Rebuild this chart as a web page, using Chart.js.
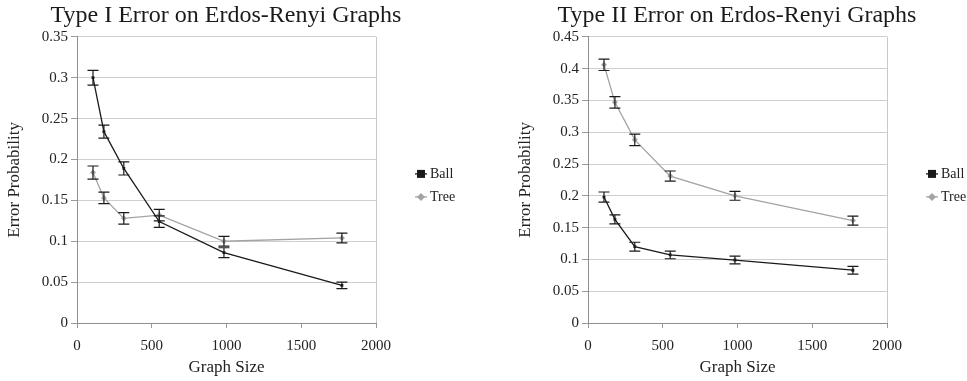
<!DOCTYPE html>
<html>
<head>
<meta charset="utf-8">
<script src="https://cdn.jsdelivr.net/npm/chart.js@4.4.1/dist/chart.umd.min.js"></script>
<style>
  html, body { margin: 0; padding: 0; background: #fff; overflow: hidden; }
  .box { position: absolute; top: 0; width: 480px; height: 381px; }
  #left { left: 0; }
  #right { left: 511px; }
</style>
</head>
<body>
<div class="box" id="left"><canvas id="type1" width="480" height="381"></canvas></div>
<div class="box" id="right"><canvas id="type2" width="480" height="381"></canvas></div>
<script>
// graph sizes used in both experiments
const graphSizes = [107, 180, 313, 550, 983, 1772];
const seriesNames = ['Ball', 'Tree'];

// Type I error
const type1Ball = [0.300, 0.234, 0.189, 0.124, 0.086, 0.046];
const type1BallErr = [0.009, 0.008, 0.008, 0.007, 0.006, 0.004];
const type1Tree = [0.184, 0.153, 0.128, 0.132, 0.100, 0.104];
const type1TreeErr = [0.008, 0.007, 0.007, 0.007, 0.006, 0.006];

// Type II error
const type2Ball = [0.198, 0.163, 0.120, 0.107, 0.099, 0.083];
const type2BallErr = [0.008, 0.007, 0.007, 0.006, 0.006, 0.006];
const type2Tree = [0.406, 0.347, 0.288, 0.231, 0.200, 0.161];
const type2TreeErr = [0.009, 0.009, 0.009, 0.008, 0.007, 0.007];

const ballColor = '#1a1a1a';
const treeColor = '#a3a3a3';
const serif = '"Liberation Serif", serif';

// vertical error bars with caps, drawn through the y scale
const errorBars = {
  id: 'errorBars',
  afterDatasetsDraw(chart) {
    const ctx = chart.ctx;
    const yScale = chart.scales.y;
    ctx.save();
    ctx.strokeStyle = '#1a1a1a';
    ctx.lineWidth = 1.2;
    chart.data.datasets.forEach((ds, i) => {
      const meta = chart.getDatasetMeta(i);
      meta.data.forEach((pt, j) => {
        const v = ds.data[j].y;
        const e = ds.errors[j];
        const top = yScale.getPixelForValue(v + e);
        const bot = yScale.getPixelForValue(v - e);
        ctx.beginPath();
        ctx.moveTo(pt.x, top); ctx.lineTo(pt.x, bot);
        ctx.moveTo(pt.x - 5.5, top); ctx.lineTo(pt.x + 5.5, top);
        ctx.moveTo(pt.x - 5.5, bot); ctx.lineTo(pt.x + 5.5, bot);
        ctx.stroke();
      });
    });
    ctx.restore();
  }
};

// legend on the right: short line + marker + name
const sideLegend = {
  id: 'sideLegend',
  afterDraw(chart) {
    const ctx = chart.ctx;
    const area = chart.chartArea;
    const x0 = area.right + 39;
    const midY = (area.top + area.bottom) / 2 + 5.5;
    const n = chart.data.datasets.length;
    ctx.save();
    ctx.font = '14px ' + serif;
    ctx.textBaseline = 'middle';
    chart.data.datasets.forEach((ds, i) => {
      const y = midY + (i - (n - 1) / 2) * 23;
      ctx.strokeStyle = ds.borderColor;
      ctx.fillStyle = ds.borderColor;
      ctx.lineWidth = 1.3;
      ctx.beginPath();
      ctx.moveTo(x0, y); ctx.lineTo(x0 + 12, y);
      ctx.stroke();
      const cx = x0 + 6;
      if (ds.pointStyle === 'rect') {
        ctx.fillRect(cx - 4, y - 4, 8, 8);
      } else {
        ctx.beginPath();
        ctx.moveTo(cx, y - 4); ctx.lineTo(cx + 4, y);
        ctx.lineTo(cx, y + 4); ctx.lineTo(cx - 4, y);
        ctx.closePath();
        ctx.fill();
      }
      ctx.fillStyle = '#222';
      ctx.fillText(ds.label, x0 + 15, y);
    });
    ctx.restore();
  }
};

function makeDataset(name, values, errors, color, style, radius) {
  return {
    label: name,
    data: graphSizes.map((x, i) => ({ x: x, y: values[i] })),
    errors: errors,
    borderColor: color,
    backgroundColor: color,
    borderWidth: 1.3,
    pointStyle: style,
    pointRadius: radius,
    pointBorderWidth: 0,
    tension: 0,
    yAxisID: 'y'
  };
}

function buildOptions(titleText, yMax) {
  const tickFont = { family: serif, size: 15 };
  const titleFont = { family: serif, size: 17 };
  return {
    responsive: false,
    animation: false,
    // title spans 0..452 so it centres over the plot; legend room comes from the spacer axis
    layout: { padding: { left: 0, right: 28, top: 0, bottom: 0 } },
    plugins: {
      legend: { display: false },
      tooltip: { enabled: false },
      title: {
        display: true,
        text: titleText,
        color: '#1a1a1a',
        font: { family: serif, size: 24, weight: 'normal' },
        padding: { top: 1, bottom: 7 }
      }
    },
    scales: {
      x: {
        type: 'linear',
        min: 0,
        max: 2000,
        ticks: { stepSize: 500, color: '#222', font: tickFont, padding: 9, callback: v => String(v) },
        grid: {
          drawOnChartArea: true,
          color: c => (c.index === 4 ? '#c8c8c8' : 'rgba(0,0,0,0)'),
          tickColor: '#9a9a9a',
          tickLength: 5
        },
        border: { color: '#8f8f8f', width: 1 },
        title: { display: true, text: 'Graph Size', color: '#222', font: titleFont, padding: { top: 0, bottom: 3 } },
        afterFit(s) { s.height = 58; }
      },
      y: {
        min: 0,
        max: yMax,
        ticks: { stepSize: 0.05, color: '#222', font: tickFont, padding: 3, callback: v => String(+v.toFixed(2)) },
        grid: { color: '#cfcfcf', tickColor: '#9a9a9a', tickLength: 6 },
        border: { color: '#8f8f8f', width: 1 },
        title: { display: true, text: 'Error Probability', color: '#222', font: titleFont, padding: { top: 4, bottom: 0 } },
        afterFit(s) { s.width = 77; }
      },
      spacer: {
        type: 'linear',
        position: 'right',
        ticks: { display: false },
        grid: { display: false, drawTicks: false },
        border: { display: false },
        afterFit(s) { s.width = 76; }
      }
    }
  };
}

new Chart(document.getElementById('type1'), {
  type: 'line',
  data: {
    datasets: [
      makeDataset(seriesNames[0], type1Ball, type1BallErr, ballColor, 'rect', 2),
      makeDataset(seriesNames[1], type1Tree, type1TreeErr, treeColor, 'rectRot', 3)
    ]
  },
  options: buildOptions('Type I Error on Erdos-Renyi Graphs', 0.35),
  plugins: [errorBars, sideLegend]
});

new Chart(document.getElementById('type2'), {
  type: 'line',
  data: {
    datasets: [
      makeDataset(seriesNames[0], type2Ball, type2BallErr, ballColor, 'rect', 2),
      makeDataset(seriesNames[1], type2Tree, type2TreeErr, treeColor, 'rectRot', 3)
    ]
  },
  options: buildOptions('Type II Error on Erdos-Renyi Graphs', 0.45),
  plugins: [errorBars, sideLegend]
});
</script>
</body>
</html>
